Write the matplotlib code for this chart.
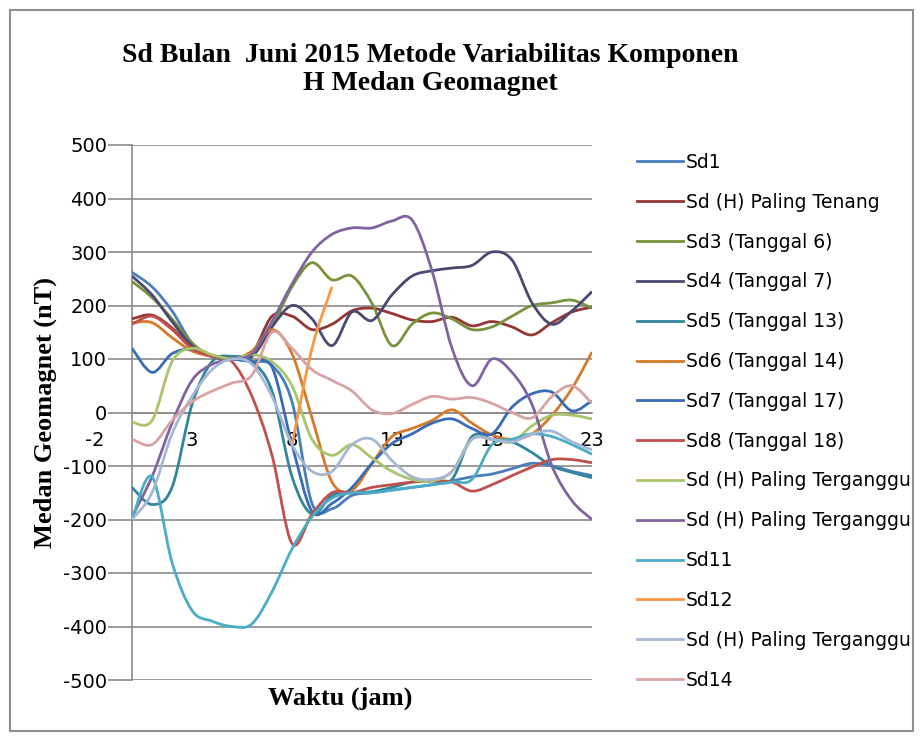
import numpy as np
import matplotlib
matplotlib.use('Agg')
import matplotlib.pyplot as plt
from matplotlib.path import Path
from matplotlib.patches import PathPatch, Rectangle
from matplotlib.lines import Line2D

plt.rcParams['axes.unicode_minus'] = False

nan = np.nan
jam = list(range(24))

# nilai Sd tiap jam (nT)
sd1 = [262, 235, 190, 130, 105, 100, 95, 88, 20, -170, -180, -155, -150, -145, -140, -135, -128, -120, -115, -105, -95, -100, -110, -118]
sd_tenang = [175, 182, 158, 120, 105, 100, 110, 180, 180, 155, 165, 190, 195, 185, 173, 170, 178, 162, 170, 160, 145, 168, 188, 197]
sd3 = [245, 215, 175, 130, 105, 100, 105, 160, 235, 280, 248, 255, 204, 125, 165, 186, 175, 155, 160, 180, 200, 205, 210, 195]
sd4 = [255, 220, 170, 125, 105, 100, 105, 160, 200, 175, 125, 188, 172, 220, 255, 265, 270, 275, 300, 285, 205, 165, 190, 226]
sd5 = [-140, -172, -140, 15, 95, 105, 95, 40, -120, -190, -155, -150, -148, -140, -130, -128, -125, -45, -50, -55, -75, -100, -112, -122]
sd6 = [168, 168, 140, 115, 105, 100, 115, 155, 110, -10, -130, -145, -95, -45, -30, -15, 5, -20, -42, -50, -40, -5, 45, 113]
sd7 = [120, 75, 110, 118, 105, 100, 95, 85, -60, -185, -170, -140, -95, -58, -40, -20, -12, -30, -40, 10, 35, 38, 3, 22]
sd8 = [165, 180, 155, 120, 105, 95, 30, -80, -245, -190, -150, -150, -140, -135, -130, -128, -130, -147, -135, -118, -102, -88, -88, -94]
sd9 = [-18, -15, 95, 120, 108, 100, 108, 95, 50, -50, -80, -60, -85, -110, -125, -128, -110, -50, -50, -55, -25, -5, -5, -12]
sd10 = [-195, -120, -20, 60, 90, 100, 110, 170, 240, 300, 333, 345, 345, 358, 360, 265, 120, 50, 100, 75, 15, -100, -165, -200]
sd11 = [-200, -120, -280, -370, -390, -400, -395, -335, -255, -195, -160, -150, -150, -145, -140, -135, -130, -125, -60, -50, -40, -45, -60, -78]
sd12 = [nan] * 8 + [-60, 120, 235] + [nan] * 13
sd13 = [-200, -150, -40, 30, 80, 100, 90, 30, -60, -110, -110, -60, -50, -90, -120, -125, -110, -50, -50, -55, -40, -35, -55, -70]
sd14 = [-50, -60, -15, 20, 40, 55, 70, 150, 120, 80, 60, 40, 5, -2, 15, 30, 25, 28, 17, 0, -10, 30, 50, 17]

nama = ['Sd1', 'Sd (H) Paling Tenang', 'Sd3 (Tanggal 6)', 'Sd4 (Tanggal 7)',
        'Sd5 (Tanggal 13)', 'Sd6 (Tanggal 14)', 'Sd7 (Tanggal 17)', 'Sd8 (Tanggal 18)',
        'Sd (H) Paling Terganggu', 'Sd (H) Paling Terganggu', 'Sd11', 'Sd12',
        'Sd (H) Paling Terganggu', 'Sd14']
semua = [sd1, sd_tenang, sd3, sd4, sd5, sd6, sd7, sd8, sd9, sd10, sd11, sd12, sd13, sd14]
warna = ['#4A7EBB', '#943634', '#77933C', '#4A4A70', '#31859C', '#D67A2A', '#3A6CB5',
         '#C0504D', '#A9C46C', '#8064A2', '#4BACC6', '#F79646', '#A5B7D4', '#D9A3A3']


def garis_halus(x, y):
    # garis halus ala Excel (bezier kubik lewat tiap titik)
    p = np.array([(a, b) for a, b in zip(x, y) if not np.isnan(b)], dtype=float)
    n = len(p)
    verts = [tuple(p[0])]
    codes = [Path.MOVETO]
    for i in range(n - 1):
        p0 = p[i - 1] if i > 0 else p[i]
        p3 = p[i + 2] if i + 2 < n else p[i + 1]
        c1 = p[i] + (p[i + 1] - p0) / 6
        c2 = p[i + 1] - (p3 - p[i]) / 6
        verts += [tuple(c1), tuple(c2), tuple(p[i + 1])]
        codes += [Path.CURVE4] * 3
    return Path(verts, codes)


fig = plt.figure(figsize=(9.23, 7.38), dpi=100)
W, H = 923, 738
ax = fig.add_axes([132 / W, 1 - 680 / H, 460 / W, 535 / H])

for y, c in zip(semua, warna):
    ax.add_patch(PathPatch(garis_halus(jam, y), fill=False, edgecolor=c, lw=2.0, zorder=3))

ax.set_xlim(0, 23)
ax.set_ylim(-500, 500)
ax.set_yticks(range(-500, 501, 100))
ax.set_xticks([3, 8, 13, 18, 23])
ax.set_xticklabels(['3', '8', '13', '18', '23'])
ax.yaxis.grid(True, color='#8a8a8a', lw=1.2)
ax.set_axisbelow(True)
for s in ['top', 'right']:
    ax.spines[s].set_visible(False)
ax.spines['bottom'].set_position(('data', 0))
ax.spines['bottom'].set_color('#8a8a8a')
ax.spines['left'].set_color('#8a8a8a')
ax.spines['bottom'].set_linewidth(1.2)
ax.spines['left'].set_linewidth(1.2)
ax.tick_params(axis='y', length=17, width=1.2, color='#8a8a8a', pad=1, labelsize=14)
ax.tick_params(axis='x', length=0, pad=13, labelsize=14)
ax.text(-1.85, -53, '-2', ha='center', va='center', fontsize=14, clip_on=False)

serif = 'Liberation Serif'
fig.text(430 / W, 1 - 55 / H, 'Sd Bulan  Juni 2015 Metode Variabilitas Komponen',
         ha='center', va='center', fontsize=20, fontweight='bold', family=serif)
fig.text(430 / W, 1 - 84 / H, 'H Medan Geomagnet',
         ha='center', va='center', fontsize=20, fontweight='bold', family=serif)
fig.text(45 / W, 1 - 412 / H, 'Medan Geomagnet (nT)', rotation=90,
         ha='center', va='center', fontsize=19, fontweight='bold', family=serif)
fig.text(340 / W, 1 - 698 / H, 'Waktu (jam)',
         ha='center', va='center', fontsize=19, fontweight='bold', family=serif)

handles = [Line2D([], [], color=c, lw=2.0) for c in warna]
fig.legend(handles, nama, loc='upper left', bbox_to_anchor=(637 / W, 1 - 153 / H),
           frameon=False, fontsize=13.5, handlelength=2.45, handletextpad=0.15,
           labelspacing=1.11, borderpad=0, borderaxespad=0)

fig.add_artist(Rectangle((10 / W, 1 - 731 / H), 903 / W, 721 / H, transform=fig.transFigure,
                         fill=False, ec='#8e8e8e', lw=1.5))

fig.savefig('out.png', dpi=100)
